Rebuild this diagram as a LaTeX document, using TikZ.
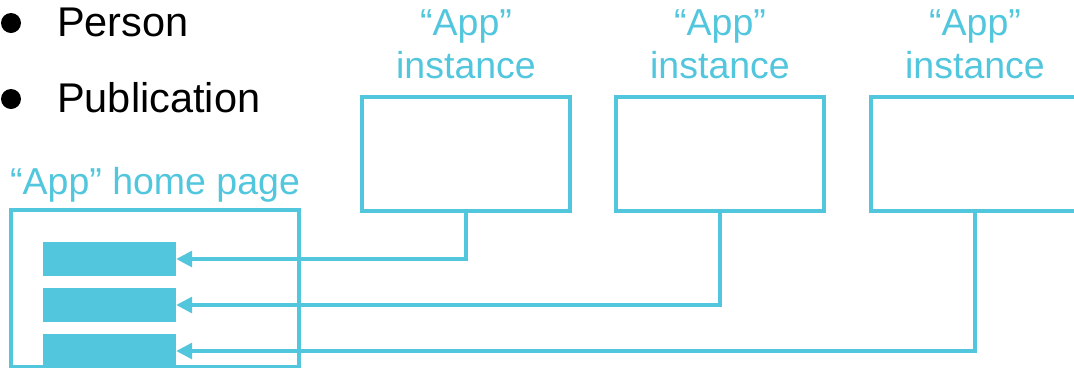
\documentclass[tikz,border=0pt]{standalone}
\usepackage{fontspec}
\setmainfont{Liberation Sans}
\usetikzlibrary{arrows.meta}
\definecolor{appcyan}{RGB}{82,198,221}

\begin{document}
\begin{tikzpicture}[x=1pt,y=-1pt,
  inst/.style={draw=appcyan,line width=3.3pt,minimum width=208pt,minimum height=114pt,inner sep=0pt},
  bar/.style={fill=appcyan,minimum width=133pt,minimum height=34pt,inner sep=0pt},
  lbl/.style={text=appcyan,font=\fontsize{37.5}{45}\selectfont,inner sep=0pt},
  item/.style={font=\fontsize{41.5}{50}\selectfont,inner sep=0pt,anchor=base west},
  link/.style={draw=appcyan,line width=3.3pt,-{Triangle[length=16pt,width=16pt]}}]
\useasboundingbox (0,0) rectangle (1074,368);
% bullet list
\fill (11,23) circle (10);
\node[item] (person) at (57,36) {Person};
\fill (11,99) circle (10);
\node[item] (publication) at (57,112) {Publication};
% home page
\node[lbl,anchor=base west] (homelbl) at (10,194) {“App” home page};
\draw[appcyan,line width=3.3pt] (11,210) rectangle (299,366.5);
\node[bar] (bar1) at (109.5,259) {};
\node[bar] (bar2) at (109.5,305) {};
\node[bar] (bar3) at (109.5,351) {};
% instances
\foreach \i/\x in {1/466,2/720,3/975} {
  \node[inst] (inst\i) at (\x,154) {};
  \node[lbl,anchor=base] (app\i) at (\x,35) {“App”};
  \node[lbl,anchor=base] (word\i) at (\x,78) {instance};
  \draw[link] (inst\i.south) |- (bar\i.east);
}
\end{tikzpicture}
\end{document}
